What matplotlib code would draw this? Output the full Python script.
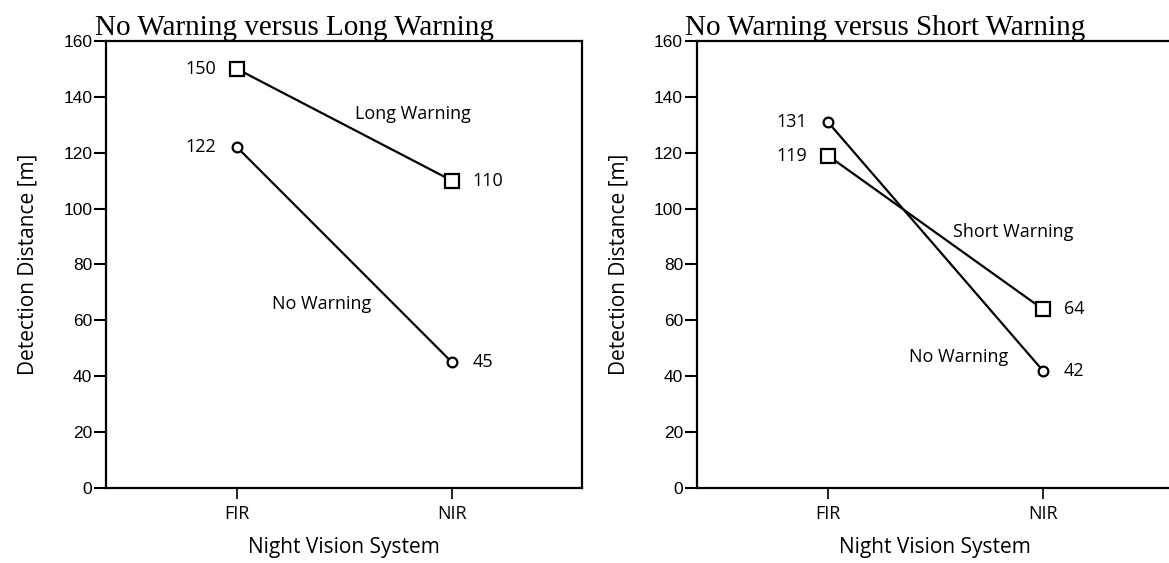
# -*- coding: utf-8 -*-
"""
Detection distance by night vision system, with and without warnings
"""

import matplotlib
matplotlib.use('Agg')
import matplotlib.pyplot as plt

#%% data

systems = ['FIR', 'NIR']

# left panel: no warning vs long warning
no_warn_a = [122, 45]
long_warn = [150, 110]

# right panel: no warning vs short warning
no_warn_b = [131, 42]
short_warn = [119, 64]

titles = ['No Warning versus Long Warning', 'No Warning versus Short Warning']
y_ticks = [0, 20, 40, 60, 80, 100, 120, 140, 160]

#%% figure

fig = plt.figure(figsize=(11.69, 5.63), dpi=100)

# axes boxes in figure fractions (right panel runs past the edge as in the source)
ax1 = fig.add_axes([0.0907, 0.1332, 0.4072, 0.794])
ax2 = fig.add_axes([0.5962, 0.1332, 0.4072, 0.794])

sans = 'Open Sans'
x = [0, 1]


def draw_panel(ax, title, circ, sq, circ_lbl, sq_lbl, circ_pos, sq_pos):
    # lines with open markers
    ax.plot(x, circ, '-', color='black', lw=1.6, marker='o', ms=7,
            mfc='white', mec='black', mew=1.6, zorder=3)
    ax.plot(x, sq, '-', color='black', lw=1.6, marker='s', ms=10,
            mfc='white', mec='black', mew=1.6, zorder=3)

    # value labels: left of FIR, right of NIR
    for vals in (circ, sq):
        ax.annotate('{:d}'.format(vals[0]), (0, vals[0]), xytext=(-15, 0),
                    textcoords='offset points', ha='right', va='center',
                    fontsize=13, family=sans)
        ax.annotate('{:d}'.format(vals[1]), (1, vals[1]), xytext=(15, 0),
                    textcoords='offset points', ha='left', va='center',
                    fontsize=13, family=sans)

    # series labels
    ax.text(circ_pos[0], circ_pos[1], circ_lbl, ha='center', va='center',
            fontsize=13, family=sans)
    ax.text(sq_pos[0], sq_pos[1], sq_lbl, ha='center', va='center',
            fontsize=13, family=sans)

    ax.set_xlim(-0.609, 1.605)
    ax.set_ylim(0, 160)
    ax.set_xticks(x)
    ax.set_xticklabels(systems, family=sans, fontsize=13)
    ax.set_yticks(y_ticks)
    ax.set_yticklabels([str(v) for v in y_ticks], family='Liberation Sans',
                       fontsize=12.5)
    ax.tick_params(axis='y', direction='out', length=9, width=1.5, pad=1)
    ax.tick_params(axis='x', direction='out', length=8, width=1.2, pad=4)
    for sp in ax.spines.values():
        sp.set_linewidth(1.6)

    ax.set_xlabel('Night Vision System', family=sans, fontsize=15, labelpad=10)
    ax.set_ylabel('Detection Distance [m]', family=sans, fontsize=15,
                  labelpad=18)
    ax.set_title(title, family='Liberation Serif', fontsize=21, pad=2, x=0.395)


draw_panel(ax1, titles[0], no_warn_a, long_warn, 'No Warning', 'Long Warning',
           (0.395, 66), (0.82, 134))
draw_panel(ax2, titles[1], no_warn_b, short_warn, 'No Warning',
           'Short Warning', (0.61, 47), (0.864, 91.5))

plt.savefig('out.png', dpi=100)
